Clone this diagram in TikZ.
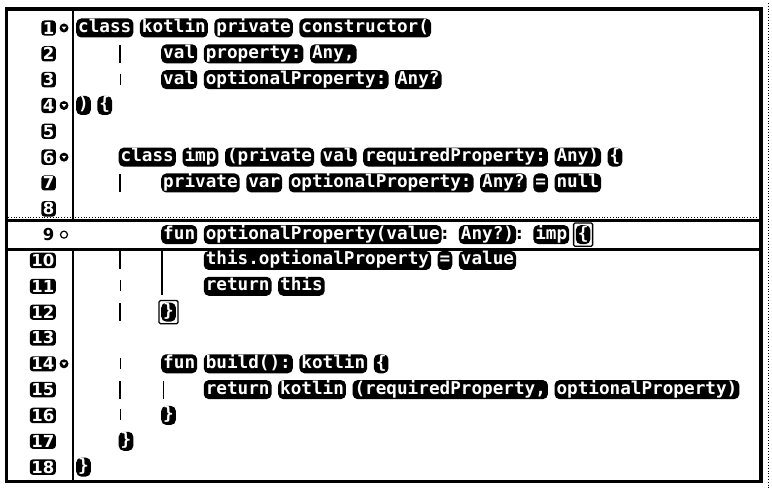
\documentclass[tikz,border=0pt]{standalone}
\usepackage{fontspec}
\newfontfamily\codefont{DejaVu Sans Mono}
\newfontfamily\numfont{DejaVu Sans}
\newcommand\RY[1]{28+(#1-1)*25.83}
\newcommand\CX[1]{78+#1*10.63-2}
\tikzset{
  tok/.style={fill=black, text=white, rounded corners=5pt, inner xsep=2pt, inner ysep=1.5pt,
    text height=12.5pt, text depth=3.5pt, anchor=west,
    font=\codefont\bfseries\fontsize{17.66}{20}\selectfont},
  plaintok/.style={text=black, inner xsep=2pt, inner ysep=1.5pt,
    text height=12.5pt, text depth=3.5pt, anchor=west,
    font=\codefont\bfseries\fontsize{17.66}{20}\selectfont},
  num/.style={fill=black, text=white, rounded corners=3pt, inner xsep=1.5pt, inner ysep=1.5pt,
    anchor=east, font=\numfont\bfseries\fontsize{16.5}{19}\selectfont},
  plainnum/.style={text=black, inner xsep=1.5pt, inner ysep=1.5pt,
    anchor=east, font=\numfont\bfseries\fontsize{16.5}{19}\selectfont},
  fold/.style={circle, fill=black, minimum size=9pt, inner sep=0pt},
  foldopen/.style={circle, draw=black, line width=1.2pt, minimum size=7pt, inner sep=0pt},
  guide/.style={line width=2.5pt},
  guidethin/.style={line width=1pt},
  bracebox/.style={line width=1.3pt, rounded corners=1.5pt},
}
\newcommand\ctok[4]{\node[tok] (#1) at ({\CX{#3}},{\RY{#2}}) {#4};}
\newcommand\ptok[4]{\node[plaintok] (#1) at ({\CX{#3}},{\RY{#2}}) {#4};}
\newcommand\lnum[2]{\node[num] (n#1) at (56,{\RY{#1}}) {#2};}
\newcommand\foldmark[1]{\node[fold] (f#1) at (64,{\RY{#1}}) {};
  \fill[white] ([shift={(-2.2pt,1.3pt)}]f#1.center) -- ([shift={(2.2pt,1.3pt)}]f#1.center) -- ([shift={(0pt,-1.8pt)}]f#1.center) -- cycle;}
\begin{document}
\begin{tikzpicture}[x=1pt,y=-1pt]
\useasboundingbox (0,0) rectangle (772,489);
\fill[white] (0,0) rectangle (772,489);
% frame
\draw[line width=3.5pt] (6.5,9) rectangle (761,481.5);
\draw[line width=1.5pt] (73,9) -- (73,219);
\draw[line width=1.5pt] (73,251) -- (73,481.5);
\draw[line width=3pt] (5,220.5) -- (763,220.5);
\draw[line width=3pt] (5,250) -- (763,250);
\draw[dotted, line width=0.8pt] (8,217.8) -- (758,217.8);
\draw[dotted, line width=0.8pt] (768,3) -- (768,489);
% line numbers
\lnum{1}{1} \lnum{2}{2} \lnum{3}{3} \lnum{4}{4} \lnum{5}{5} \lnum{6}{6}
\lnum{7}{7} \lnum{8}{8}
\node[plainnum] (n9) at (56,{\RY{9}}) {9};
\lnum{10}{10} \lnum{11}{11} \lnum{12}{12} \lnum{13}{13} \lnum{14}{14}
\lnum{15}{15} \lnum{16}{16} \lnum{17}{17} \lnum{18}{18}
% fold markers
\foldmark{1} \foldmark{4} \foldmark{6} \foldmark{14}
\node[foldopen] (f9) at (64,{\RY{9}}) {};
% indent guides
\foreach \r in {2,7,10,12,15} \draw[guide] (120,{\RY{\r}-9}) -- (120,{\RY{\r}+9});
\foreach \r in {3,11,14,16} \draw[guidethin] (120,{\RY{\r}-6}) -- (120,{\RY{\r}+5});
\draw[line width=2.2pt] (162,{\RY{10}-10}) -- (162,{\RY{11}+9});
\draw[guidethin] (163,{\RY{15}-9}) -- (163,{\RY{15}+9});
% code
\ctok{t1a}{1}{0}{class} \ctok{t1b}{1}{6}{kotlin} \ctok{t1c}{1}{13}{private} \ctok{t1d}{1}{21}{constructor(}
\ctok{t2a}{2}{8}{val} \ctok{t2b}{2}{12}{property:} \ctok{t2c}{2}{22}{Any,}
\ctok{t3a}{3}{8}{val} \ctok{t3b}{3}{12}{optionalProperty:} \ctok{t3c}{3}{30}{Any?}
\ctok{t4a}{4}{0}{)} \ctok{t4b}{4}{2}{\{}
\ctok{t6a}{6}{4}{class} \ctok{t6b}{6}{10}{imp} \ctok{t6c}{6}{14}{(private} \ctok{t6d}{6}{23}{val}
\ctok{t6e}{6}{27}{requiredProperty:} \ctok{t6f}{6}{45}{Any)} \ctok{t6g}{6}{50}{\{}
\ctok{t7a}{7}{8}{private} \ctok{t7b}{7}{16}{var} \ctok{t7c}{7}{20}{optionalProperty:}
\ctok{t7d}{7}{38}{Any?} \ctok{t7e}{7}{43}{=} \ctok{t7f}{7}{45}{null}
\ctok{t9a}{9}{8}{fun} \ctok{t9b}{9}{12}{optionalProperty(value} \ptok{t9c}{9}{34}{:}
\ctok{t9d}{9}{36}{Any?)} \ptok{t9e}{9}{41}{:} \ctok{t9f}{9}{43}{imp} \ctok{t9g}{9}{47}{\{}
\draw[bracebox] ([shift={(-2pt,2pt)}]t9g.north west) rectangle ([shift={(2pt,-2pt)}]t9g.south east);
\ctok{t10a}{10}{12}{this.optionalProperty} \ctok{t10b}{10}{34}{=} \ctok{t10c}{10}{36}{value}
\ctok{t11a}{11}{12}{return} \ctok{t11b}{11}{19}{this}
\ctok{t12a}{12}{8}{\}}
\draw[bracebox] ([shift={(-2pt,2pt)}]t12a.north west) rectangle ([shift={(2pt,-2pt)}]t12a.south east);
\ctok{t14a}{14}{8}{fun} \ctok{t14b}{14}{12}{build():} \ctok{t14c}{14}{21}{kotlin} \ctok{t14d}{14}{28}{\{}
\ctok{t15a}{15}{12}{return} \ctok{t15b}{15}{19}{kotlin} \ctok{t15c}{15}{26}{(requiredProperty,}
\ctok{t15d}{15}{45}{optionalProperty)}
\ctok{t16a}{16}{8}{\}}
\ctok{t17a}{17}{4}{\}}
\ctok{t18a}{18}{0}{\}}
\end{tikzpicture}
\end{document}
